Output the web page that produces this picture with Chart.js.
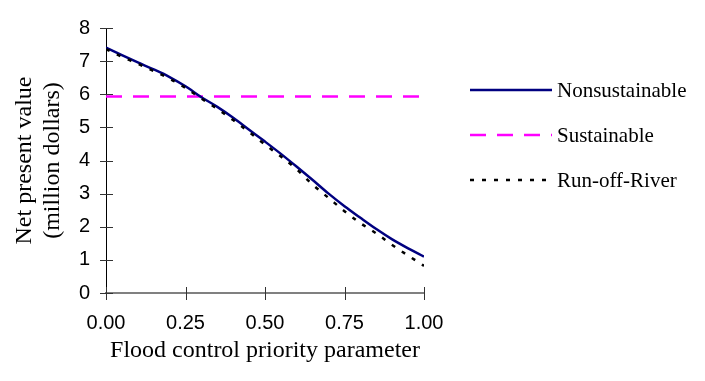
<!DOCTYPE html>
<html>
<head>
<meta charset="utf-8">
<script src="https://cdn.jsdelivr.net/npm/chart.js@4.4.0/dist/chart.umd.min.js"></script>
<style>
  html, body { margin: 0; padding: 0; background: #fff; }
  #wrap { width: 705px; height: 381px; }
</style>
</head>
<body>
<div id="wrap"><canvas id="c"></canvas></div>
<script>
// values
var xValues = [0, 0.05, 0.1, 0.15, 0.2, 0.25, 0.3, 0.35, 0.4, 0.45, 0.5,
               0.55, 0.6, 0.65, 0.7, 0.75, 0.8, 0.85, 0.9, 0.95, 1];
var nonsustainable = [7.41, 7.18, 6.96, 6.75, 6.52, 6.24, 5.91, 5.62, 5.29, 4.93, 4.57,
                      4.20, 3.81, 3.41, 3.00, 2.62, 2.27, 1.93, 1.62, 1.35, 1.10];
var runOffRiver = [7.36, 7.13, 6.92, 6.70, 6.47, 6.19, 5.87, 5.56, 5.22, 4.86, 4.48,
                   4.12, 3.73, 3.27, 2.87, 2.47, 2.11, 1.80, 1.45, 1.13, 0.82];
var sustainableX = [0, 1];
var sustainable = [5.93, 5.93];
var xTicks = [0, 0.25, 0.5, 0.75, 1];
var yMin = 0, yMax = 8, yStep = 1;

function pts(xs, ys) {
    return xs.map(function (x, i) { return { x: x, y: ys[i] }; });
}

// tick marks that cross the axis line
var crossTicks = {
    id: 'crossTicks',
    afterDraw: function (chart) {
        var ctx = chart.ctx, a = chart.chartArea;
        var xs = chart.scales.x, ys = chart.scales.y;
        ctx.save();
        ctx.strokeStyle = '#333';
        ctx.lineWidth = 1;
        ctx.beginPath();
        xs.ticks.forEach(function (t) {
            var p = Math.round(xs.getPixelForValue(t.value)) + 0.5;
            ctx.moveTo(p, a.bottom - 6);
            ctx.lineTo(p, a.bottom + 7);
        });
        ys.ticks.forEach(function (t) {
            var p = Math.round(ys.getPixelForValue(t.value)) + 0.5;
            ctx.moveTo(a.left - 6, p);
            ctx.lineTo(a.left + 7, p);
        });
        ctx.stroke();
        ctx.restore();
    }
};

// legend off to the right, line sample then label
var sideLegend = {
    id: 'sideLegend',
    afterDraw: function (chart, args, opts) {
        var ctx = chart.ctx;
        ctx.save();
        chart.data.datasets.forEach(function (ds, i) {
            var y = opts.top + i * opts.gap;
            ctx.strokeStyle = ds.borderColor;
            ctx.lineWidth = ds.borderWidth;
            ctx.setLineDash(ds.borderDash || []);
            ctx.beginPath();
            ctx.moveTo(opts.x, y);
            ctx.lineTo(opts.x + opts.len, y);
            ctx.stroke();
            ctx.setLineDash([]);
            ctx.fillStyle = '#000';
            ctx.font = '21px "Liberation Serif"';
            ctx.textBaseline = 'middle';
            ctx.fillText(ds.label, opts.x + opts.len + 5, y + 1);
        });
        ctx.restore();
    }
};

var chart = new Chart(document.getElementById('c'), {
    type: 'line',
    data: {
        datasets: [
            {
                label: 'Nonsustainable',
                data: pts(xValues, nonsustainable),
                borderColor: '#000080',
                borderWidth: 2.5,
                pointRadius: 0,
                cubicInterpolationMode: 'monotone',
                order: 1
            },
            {
                label: 'Sustainable',
                data: pts(sustainableX, sustainable),
                borderColor: '#ff00ff',
                borderWidth: 2.5,
                borderDash: [16, 11],
                pointRadius: 0,
                order: 2
            },
            {
                label: 'Run-off-River',
                data: pts(xValues, runOffRiver),
                borderColor: '#000000',
                borderWidth: 2.5,
                borderDash: [4, 8],
                pointRadius: 0,
                cubicInterpolationMode: 'monotone',
                order: 0
            }
        ]
    },
    options: {
        responsive: true,
        maintainAspectRatio: false,
        animation: false,
        events: [],
        layout: { padding: { top: 17, right: 281, left: 0, bottom: 0 } },
        plugins: {
            legend: { display: false },
            tooltip: { enabled: false },
            sideLegend: { x: 470, len: 82, top: 90, gap: 45 }
        },
        scales: {
            x: {
                type: 'linear',
                min: 0,
                max: 1,
                afterBuildTicks: function (s) {
                    s.ticks = xTicks.map(function (v) { return { value: v }; });
                },
                afterFit: function (s) { s.height = 88; },
                ticks: {
                    color: '#000',
                    padding: 18,
                    maxRotation: 0,
                    font: { family: 'Liberation Sans', size: 20 },
                    callback: function (v) { return Number(v).toFixed(2); }
                },
                grid: { display: true, drawOnChartArea: false, drawTicks: false },
                border: { color: '#808080', width: 2 },
                title: {
                    display: true,
                    text: 'Flood control priority parameter',
                    color: '#000',
                    font: { family: 'Liberation Serif', size: 24 },
                    padding: { top: 0, bottom: 16 }
                }
            },
            y: {
                min: yMin,
                max: yMax,
                afterFit: function (s) { s.width = 106; },
                ticks: {
                    stepSize: yStep,
                    color: '#000',
                    padding: 16,
                    font: { family: 'Liberation Sans', size: 20 }
                },
                grid: { display: true, drawOnChartArea: false, drawTicks: false },
                border: { color: '#000', width: 1 },
                title: {
                    display: true,
                    text: ['Net present value', '(million dollars)'],
                    color: '#000',
                    font: { family: 'Liberation Serif', size: 24, lineHeight: 1.15 },
                    padding: { top: 11, bottom: 0 }
                }
            }
        }
    },
    plugins: [crossTicks, sideLegend]
});
</script>
</body>
</html>
